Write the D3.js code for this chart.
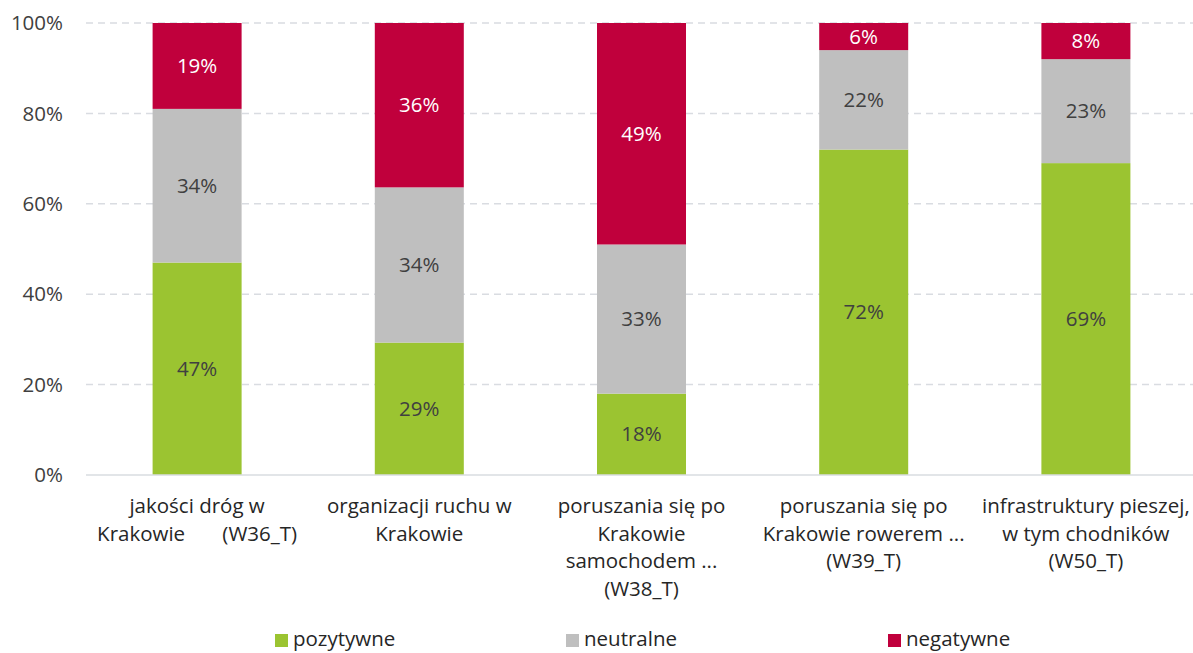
<!DOCTYPE html>
<html><head><meta charset="utf-8">
<script src="https://cdn.jsdelivr.net/npm/d3@7"></script>
<style>
html,body{margin:0;padding:0;background:#fff;}
text{font-family:"Open Sans",sans-serif;}
</style></head>
<body>
<svg id="chart" width="1193" height="653"></svg>
<script>
const categories = [
  ["jakości dróg w", "Krakowie       (W36_T)"],
  ["organizacji ruchu w", "Krakowie"],
  ["poruszania się po", "Krakowie", "samochodem ...", "(W38_T)"],
  ["poruszania się po", "Krakowie rowerem ...", "(W39_T)"],
  ["infrastruktury pieszej,", "w tym chodników", "(W50_T)"]
];
const seriesNames = ["pozytywne", "neutralne", "negatywne"];
const pozytywne = [47, 29, 18, 72, 69];
const neutralne = [34, 34, 33, 22, 23];
const negatywne = [19, 36, 49, 6, 8];
const yTicks = [0, 0.2, 0.4, 0.6, 0.8, 1.0];
const colors = ["#9bc431", "#bfbfbf", "#c0003c"];
const labelColors = ["#404040", "#404040", "#ffffff"];

const svg = d3.select("#chart");
const FS = 20.5;
const x = d3.scaleBand().domain(d3.range(categories.length)).range([86, 1197]).paddingInner(0.6).paddingOuter(0.3);
const y = d3.scaleLinear().domain([0, 1]).range([475, 23]);

const rows = categories.map((c, i) => ({i, pozytywne: pozytywne[i], neutralne: neutralne[i], negatywne: negatywne[i]}));
const stack = d3.stack().keys(seriesNames).offset(d3.stackOffsetExpand);
const stacked = stack(rows);

// gridlines
svg.append("g").selectAll("line").data(yTicks.filter(t => t > 0)).join("line")
  .attr("x1", 86).attr("x2", 1193)
  .attr("y1", d => y(d)).attr("y2", d => y(d))
  .attr("stroke", "#d9dce1").attr("stroke-width", 1.5).attr("stroke-dasharray", "7,5");

// y tick labels
svg.append("g").selectAll("text").data(yTicks).join("text")
  .attr("x", 63).attr("y", d => y(d)).attr("dy", "0.35em")
  .attr("text-anchor", "end").attr("font-size", FS).attr("fill", "#404040")
  .text(d => d3.format(".0%")(d));

// bars
const bw = 89;
const groups = svg.append("g").selectAll("g").data(stacked).join("g")
  .attr("fill", (d, k) => colors[k]);
groups.selectAll("rect").data(d => d).join("rect")
  .attr("x", (d, i) => x(i) + x.bandwidth() / 2 - bw / 2)
  .attr("width", bw)
  .attr("y", d => y(d[1]))
  .attr("height", d => y(d[0]) - y(d[1]));

// data labels
const vals = [pozytywne, neutralne, negatywne];
stacked.forEach((s, k) => {
  svg.append("g").selectAll("text").data(s).join("text")
    .attr("x", (d, i) => x(i) + x.bandwidth() / 2)
    .attr("y", d => (y(d[0]) + y(d[1])) / 2)
    .attr("dy", "0.35em").attr("text-anchor", "middle")
    .attr("font-size", FS).attr("fill", labelColors[k])
    .text((d, i) => vals[k][i] + "%");
});

// axis line
svg.append("line").attr("x1", 86).attr("x2", 1193).attr("y1", y(0)).attr("y2", y(0))
  .attr("stroke", "#d9dce1").attr("stroke-width", 1.5);

// category labels
const cat = svg.append("g").selectAll("text").data(categories).join("text")
  .attr("text-anchor", "middle").attr("font-size", FS).attr("fill", "#262626")
  .style("white-space", "pre");
cat.each(function(lines, i) {
  const t = d3.select(this);
  lines.forEach((ln, j) => {
    t.append("tspan").attr("x", x(i) + x.bandwidth() / 2).attr("y", 513 + j * 27.5).text(ln);
  });
});

// legend
const legendX = [275, 566, 888];
const lg = svg.append("g").selectAll("g").data(seriesNames).join("g")
  .attr("transform", (d, k) => `translate(${legendX[k]},639)`);
lg.append("rect").attr("x", 0).attr("y", -5).attr("width", 13).attr("height", 13).attr("fill", (d, k) => colors[k]);
lg.append("text").attr("x", 18).attr("y", 0).attr("dy", "0.36em").attr("font-size", FS).attr("fill", "#262626").text(d => d);
</script>
</body></html>
